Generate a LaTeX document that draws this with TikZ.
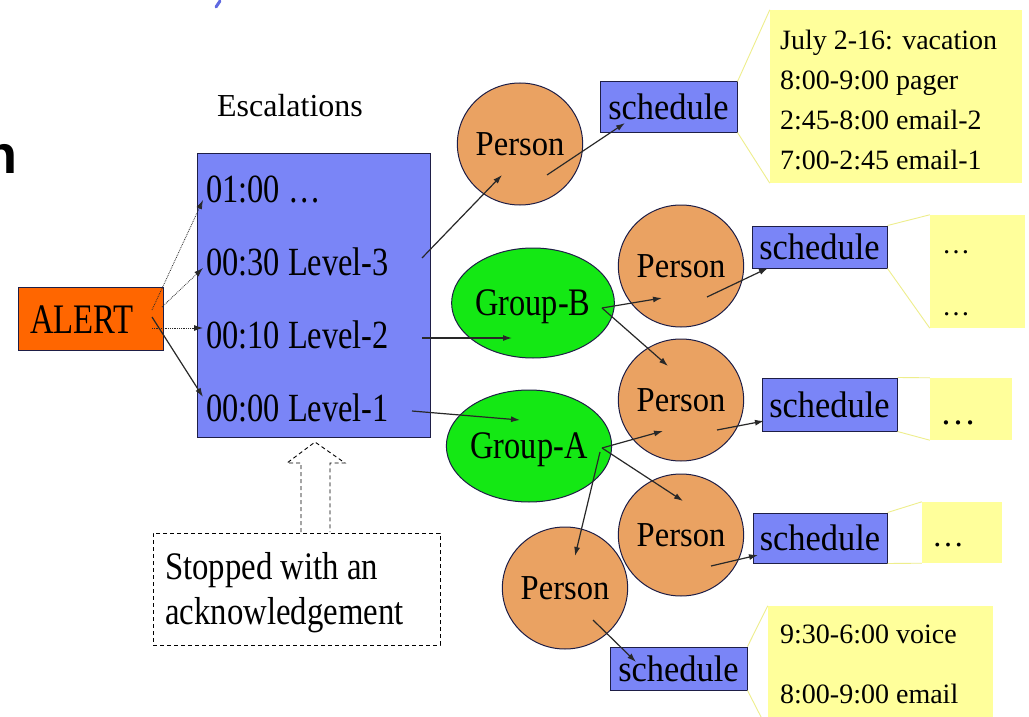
\documentclass[tikz,border=0pt]{standalone}
\usepackage{fontspec}
\setmainfont{Liberation Serif}
\newfontfamily\headsans{Liberation Sans}
\usepackage{graphicx}
\usetikzlibrary{arrows.meta,shapes.geometric}
\definecolor{boxblue}{RGB}{122,133,247}
\definecolor{boxedge}{RGB}{30,30,70}
\definecolor{alertorange}{RGB}{255,102,0}
\definecolor{persontan}{RGB}{234,162,98}
\definecolor{groupgreen}{RGB}{20,232,20}
\definecolor{noteyellow}{RGB}{255,255,155}
\definecolor{wedgeyellow}{RGB}{238,238,140}
\definecolor{markblue}{RGB}{95,105,225}
\definecolor{linkgray}{RGB}{40,40,40}
\newcommand{\mytxt}[3]{\scalebox{#1}[1]{\fontsize{#2}{#2}\selectfont #3}}
\begin{document}
\begin{tikzpicture}[x=1pt,y=-1pt,
  bluebox/.style={draw=boxedge, line width=1pt, fill=boxblue, rectangle, inner sep=0pt},
  alertbox/.style={draw=boxedge, line width=1pt, fill=alertorange, rectangle, inner sep=0pt},
  personnode/.style={draw=boxedge, line width=1pt, fill=persontan, ellipse, inner sep=0pt, minimum width=108pt, minimum height=122pt},
  groupnode/.style={draw=boxedge, line width=1pt, fill=groupgreen, ellipse, inner sep=0pt, text depth=0pt},
  note/.style={fill=noteyellow, rectangle, inner sep=0pt},
  wedge/.style={draw=wedgeyellow, line width=0.9pt},
  label/.style={inner sep=0pt, anchor=base west},
  link/.style={draw=linkgray, line width=1.2pt, -{Latex[length=9pt,width=6pt]}},
  dotlink/.style={draw=linkgray, line width=0.8pt, densely dotted, -{Latex[length=9pt,width=6pt]}},
  ackline/.style={draw=black, line width=0.9pt, dash pattern=on 4pt off 3pt}
]
\useasboundingbox (0,0) rectangle (1029,717);
\clip (0,0) rectangle (1029,717);
\fill[white] (0,0) rectangle (1029,717);

% stray marks from the slide
\draw[markblue, line width=3pt, line cap=round] (220,1) -- (216,7);
\node[inner sep=0pt, anchor=base west] (nchar) at (-16,173) {\fontsize{54}{54}\selectfont\headsans\bfseries n};

% escalations
\node[inner sep=0pt, anchor=base] (esct) at (290,117) {\mytxt{1}{32}{Escalations}};
\node[bluebox, minimum width=233pt, minimum height=284pt] (esc) at (313.5,295) {};
\node[label] (l0) at (206,202) {\mytxt{0.81}{40}{01:00 …}};
\node[label] (l3) at (206,275) {\mytxt{0.81}{40}{00:30 Level-3}};
\node[label] (l2) at (206,348) {\mytxt{0.81}{40}{00:10 Level-2}};
\node[label] (l1) at (206,421) {\mytxt{0.81}{40}{00:00 Level-1}};

% alert
\node[alertbox, minimum width=145pt, minimum height=63pt] (alert) at (90.5,318.5) {};
\node[label] (alertt) at (30,333) {\mytxt{0.78}{42}{ALERT}};

% acknowledgement
\node[ackline, rectangle, inner sep=0pt, minimum width=287pt, minimum height=112pt] (ack) at (296.5,589) {};
\node[label] (ack1) at (165,579) {\mytxt{0.84}{39}{Stopped with an}};
\node[label] (ack2) at (165,624) {\mytxt{0.84}{39}{acknowledgement}};
\draw[ackline] (301,532) -- (301,463) -- (287,463) -- (315,442) -- (345,463) -- (330,463) -- (330,532);

% notes (yellow callouts)
\node[note, minimum width=252pt, minimum height=173pt] (c1) at (896,96.5) {};
\node[note, minimum width=95pt, minimum height=113pt] (c2) at (977.5,271.5) {};
\node[note, minimum width=82pt, minimum height=62pt] (c3) at (971,409) {};
\node[note, minimum width=80pt, minimum height=61pt] (c4) at (962,532.5) {};
\node[note, minimum width=225pt, minimum height=124pt] (c5) at (880.5,668) {};

\node[label] (c1a) at (780,50) {\mytxt{1}{28}{July 2-16: vacation}};
\node[label] (c1b) at (780,89) {\mytxt{1}{28}{8:00-9:00 pager}};
\node[label] (c1c) at (780,129) {\mytxt{1}{28}{2:45-8:00 email-2}};
\node[label] (c1d) at (780,169) {\mytxt{1}{28}{7:00-2:45 email-1}};
\node[label] (c2a) at (942,253) {\mytxt{1}{28}{…}};
\node[label] (c2b) at (942,315) {\mytxt{1}{28}{…}};
\node[label] (c3a) at (940,424) {\mytxt{1}{36}{…}};
\node[label] (c4a) at (932,546) {\mytxt{1}{32}{…}};
\node[label] (c5a) at (780,643) {\mytxt{1}{28}{9:30-6:00 voice}};
\node[label] (c5b) at (780,703) {\mytxt{1}{28}{8:00-9:00 email}};

% groups and persons
\node[groupnode, minimum width=153pt, minimum height=110pt] (gb) at (533,303) {\mytxt{0.83}{39}{Group-B}};
\node[groupnode, minimum width=162pt, minimum height=112pt] (ga) at (529,446) {\mytxt{0.83}{39}{Group-A}};
\node[personnode] (p1) at (520,144) {\mytxt{0.93}{35}{Person}};
\node[personnode] (p2) at (681,266) {\mytxt{0.93}{35}{Person}};
\node[personnode] (p3) at (681,400) {\mytxt{0.93}{35}{Person}};
\node[personnode] (p4) at (681,535) {\mytxt{0.93}{35}{Person}};
\node[personnode] (p5) at (565,588) {\mytxt{0.93}{35}{Person}};

% schedules
\node[bluebox, minimum width=137pt, minimum height=50pt] (s1) at (668.5,107) {\mytxt{0.93}{37}{schedule}};
\node[bluebox, minimum width=135pt, minimum height=42pt] (s2) at (819.5,247) {\mytxt{0.93}{37}{schedule}};
\node[bluebox, minimum width=135pt, minimum height=53pt] (s3) at (829.5,404.5) {\mytxt{0.93}{37}{schedule}};
\node[bluebox, minimum width=134pt, minimum height=50pt] (s4) at (820,538) {\mytxt{0.93}{37}{schedule}};
\node[bluebox, minimum width=137pt, minimum height=43pt] (s5) at (678.5,668.5) {\mytxt{0.93}{37}{schedule}};

% callout wedges
\draw[wedge] (s1.north east) -- (c1.north west);
\draw[wedge] (s1.south east) -- (c1.south west);
\draw[wedge] (s2.north east) -- (c2.north west);
\draw[wedge] (s2.south east) -- (c2.south west);
\draw[wedge] (s3.north east) -- (c3.north west);
\draw[wedge] (s3.south east) -- (c3.south west);
\draw[wedge] (s4.north east) -- (c4.north west);
\draw[wedge] (s4.south east) -- (c4.south west);
\draw[wedge] (s5.north east) -- (c5.north west);
\draw[wedge] (s5.south east) -- ([yshift=0pt]c5.south west);

% connector end points
\coordinate (a1s) at (152,310); \coordinate (e1) at (203,200);
\coordinate (a2s) at (162,307); \coordinate (e2) at (203,268);
\coordinate (a3s) at (152,328); \coordinate (e3) at (203,328);
\coordinate (a4s) at (152,317); \coordinate (e4) at (203,397);
\coordinate (l3s) at (422,258); \coordinate (p1in) at (502,175);
\coordinate (p1out) at (547,175); \coordinate (s1in) at (625,123);
\coordinate (l2s) at (422,338); \coordinate (gbin) at (512,338);
\coordinate (l1s) at (412,411); \coordinate (gain) at (520,420);
\coordinate (gbout) at (602,308); \coordinate (p2in) at (662,298); \coordinate (p3inb) at (668,366);
\coordinate (p2out) at (707,297); \coordinate (s2in) at (768,268);
\coordinate (gaout) at (602,448); \coordinate (p3ina) at (663,431);
\coordinate (p4in) at (683,501);
\coordinate (gaout2) at (600,452); \coordinate (p5in) at (575,556);
\coordinate (p3out) at (717,430); \coordinate (s3in) at (764,421);
\coordinate (p4out) at (711,566); \coordinate (s4in) at (758,555);
\coordinate (p5out) at (593,620); \coordinate (s5in) at (636,662);

% connectors
\draw[dotlink] (a1s) -- (e1);
\draw[dotlink] (a2s) -- (e2);
\draw[dotlink] (a3s) -- (e3);
\draw[link] (a4s) -- (e4);
\draw[link] (l3s) -- (p1in);
\draw[link] (p1out) -- (s1in);
\draw[link] (l2s) -- (gbin);
\draw[link] (l1s) -- (gain);
\draw[link] (gbout) -- (p2in);
\draw[link] (gbout) -- (p3inb);
\draw[link] (p2out) -- (s2in);
\draw[link] (gaout) -- (p3ina);
\draw[link] (gaout) -- (p4in);
\draw[link] (gaout2) -- (p5in);
\draw[link] (p3out) -- (s3in);
\draw[link] (p4out) -- (s4in);
\draw[link] (p5out) -- (s5in);
\end{tikzpicture}
\end{document}
